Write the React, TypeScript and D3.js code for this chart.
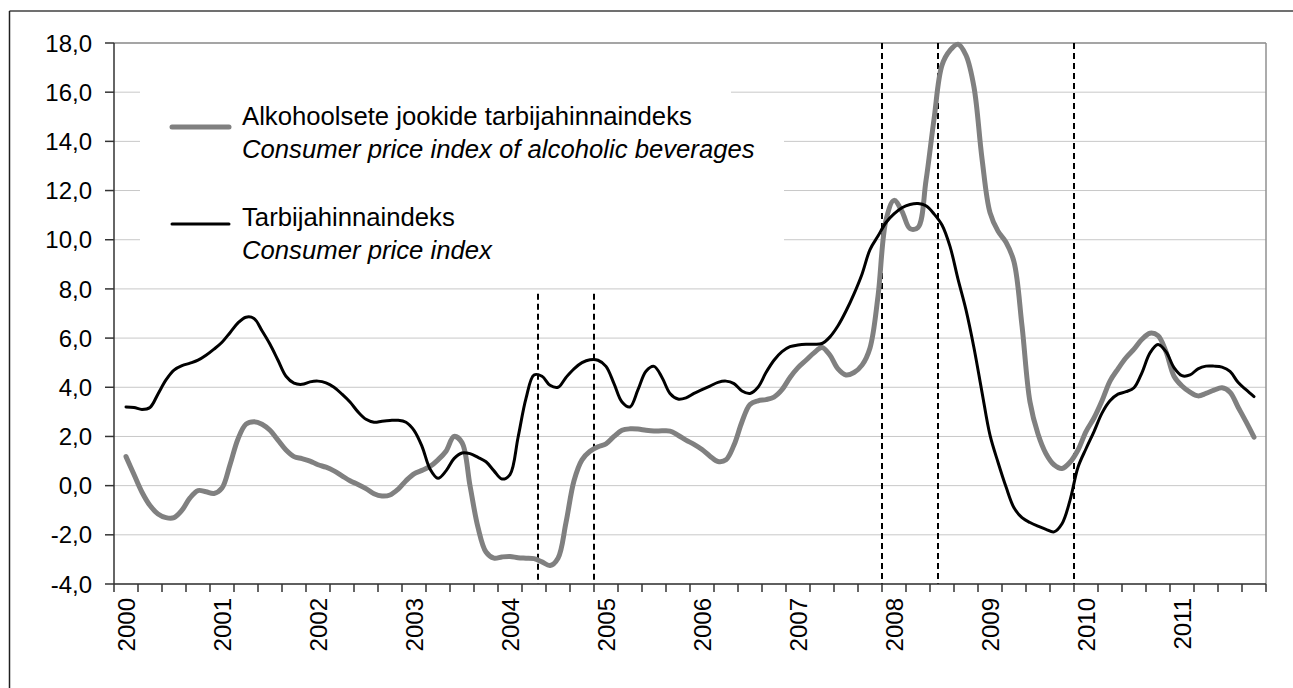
import React from "react";
import * as d3 from "d3";

// Monthly values, starting February 2000 (month index 1 = Feb 2000)
const firstMonthIndex = 1;
const cpiValues = [
  3.2, 3.18, 3.1, 3.18, 3.73, 4.3, 4.7, 4.88, 4.98, 5.1,
  5.3, 5.55, 5.83, 6.22, 6.62, 6.85, 6.8, 6.3, 5.75, 5.1,
  4.45, 4.17, 4.12, 4.22, 4.25, 4.18, 4.0, 3.72, 3.4, 3.0,
  2.7, 2.58, 2.62, 2.65, 2.66, 2.58, 2.25, 1.6, 0.68, 0.3,
  0.6, 1.1, 1.33, 1.3, 1.15, 0.97, 0.6, 0.27, 0.45, 1.95,
  3.55, 4.5, 4.45, 4.08, 4.0, 4.4, 4.75, 5.0, 5.12, 5.1,
  4.85, 4.15, 3.4, 3.2, 3.9, 4.65, 4.85, 4.4, 3.75, 3.52,
  3.57, 3.75, 3.9, 4.05, 4.2, 4.25, 4.15, 3.85, 3.75, 4.0,
  4.6, 5.1, 5.45, 5.65, 5.72, 5.75, 5.75, 5.78, 6.05, 6.5,
  7.1, 7.8, 8.6, 9.6, 10.15, 10.7, 11.05, 11.3, 11.43, 11.47,
  11.38, 11.05, 10.6, 9.73, 8.4, 7.15, 5.6, 3.8, 2.05, 0.95,
  -0.05, -0.9, -1.3, -1.5, -1.65, -1.78, -1.88, -1.55, -0.6, 0.75,
  1.5, 2.2, 2.95, 3.45, 3.72, 3.82, 3.98, 4.6, 5.4, 5.74,
  5.45, 4.8, 4.47, 4.5, 4.75, 4.86, 4.86, 4.82, 4.65, 4.2,
  3.9, 3.62,
];
const alcoholValues = [
  1.18, 0.45, -0.27, -0.81, -1.15, -1.3, -1.3, -1.0, -0.5, -0.2,
  -0.25, -0.32, -0.1, 0.85, 1.9, 2.5, 2.6, 2.5, 2.25, 1.85,
  1.45, 1.18, 1.1, 1.0, 0.85, 0.75, 0.6, 0.4, 0.2, 0.05,
  -0.12, -0.33, -0.42, -0.38, -0.15, 0.2, 0.48, 0.62, 0.78, 1.05,
  1.4, 2.0, 1.75, 0.0, -1.7, -2.7, -2.95, -2.9, -2.88, -2.93,
  -2.95, -2.97, -3.1, -3.25, -2.95, -1.5, 0.2, 1.05, 1.4, 1.58,
  1.7, 2.0, 2.25, 2.31, 2.3, 2.25, 2.22, 2.23, 2.22, 2.05,
  1.85, 1.68, 1.47, 1.2, 0.98, 1.05, 1.65, 2.6, 3.3, 3.45,
  3.5, 3.6, 3.9, 4.4, 4.8, 5.1, 5.4, 5.62, 5.3, 4.75,
  4.5, 4.6, 4.9, 5.6, 7.7, 10.8, 11.6, 11.15, 10.45, 10.5,
  12.4, 14.9, 17.1, 17.7, 17.95, 17.5, 16.2, 13.3, 11.1, 10.35,
  9.9, 9.1, 6.5, 3.4, 2.1, 1.3, 0.85, 0.7, 0.95, 1.45,
  2.2, 2.75, 3.45, 4.25, 4.75, 5.2, 5.55, 5.95, 6.2, 6.1,
  5.45, 4.45, 4.05, 3.8, 3.65, 3.75, 3.88, 3.98, 3.8, 3.2,
  2.6, 1.97,
];
const yearLabels = ["2000", "2001", "2002", "2003", "2004", "2005", "2006", "2007", "2008", "2009", "2010", "2011"];
const yTicks = [-4, -2, 0, 2, 4, 6, 8, 10, 12, 14, 16, 18];
// vertical dashed event lines, in months since January 2000, with their top value
const eventMonths = [53, 60, 96, 103, 120];
const eventTops = [7.8, 7.8, 18, 18, 18];
const legendItems = [
  { name: "Alkohoolsete jookide tarbijahinnaindeks", en: "Consumer price index of alcoholic beverages", color: "#808080", width: 5 },
  { name: "Tarbijahinnaindeks", en: "Consumer price index", color: "#000000", width: 3 },
];

const W = 1293;
const H = 688;
const M = { left: 114, right: 1266, top: 43, bottom: 584 };
const FONT = "Arial, 'Liberation Sans', sans-serif";

export default function App() {
  const totalMonths = yearLabels.length * 12;
  const x = d3.scaleLinear().domain([0, totalMonths]).range([M.left, M.right]);
  const y = d3.scaleLinear().domain([-4, 18]).range([M.bottom, M.top]);

  const line = d3
    .line<number>()
    .x((_, i) => x(firstMonthIndex + i + 0.5))
    .y((d) => y(d))
    .curve(d3.curveCatmullRom.alpha(0.5));

  const quarterTicks = d3.range(0, totalMonths + 1, 3);
  const fmt = (v: number) => v.toFixed(1).replace(".", ",");

  return (
    <svg width={W} height={H} style={{ position: "absolute", left: 0, top: 0 }} fontFamily={FONT}>
      <rect x={0} y={0} width={W} height={H} fill="#fff" />
      {/* outer frame */}
      <line x1={9.5} y1={11} x2={W + 5} y2={11} stroke="#404040" strokeWidth={1.5} />
      <line x1={9.5} y1={11} x2={9.5} y2={H + 5} stroke="#202020" strokeWidth={1.5} />

      {/* gridlines */}
      {yTicks.map((t) => (
        <line key={"g" + t} x1={M.left} x2={M.right} y1={y(t)} y2={y(t)} stroke="#c8c8c8" strokeWidth={1} />
      ))}
      {/* plot frame top / right */}
      <line x1={M.left} x2={M.right} y1={M.top} y2={M.top} stroke="#909090" strokeWidth={1.5} />
      <line x1={M.right} x2={M.right} y1={M.top} y2={M.bottom} stroke="#909090" strokeWidth={1.5} />

      {/* legend background boxes */}
      <rect x={140} y={60} width={731 - 140} height={55} fill="#fff" />
      <rect x={140} y={115} width={784 - 140} height={150} fill="#fff" />

      {/* event lines */}
      {eventMonths.map((m, i) => (
        <line key={"e" + m} x1={x(m)} x2={x(m)} y1={y(eventTops[i])} y2={M.bottom} stroke="#000" strokeWidth={2} strokeDasharray="6,4" />
      ))}

      {/* series */}
      <path d={line(alcoholValues) || ""} fill="none" stroke="#808080" strokeWidth={5} strokeLinejoin="round" strokeLinecap="round" />
      <path d={line(cpiValues) || ""} fill="none" stroke="#000" strokeWidth={3} strokeLinejoin="round" strokeLinecap="round" />

      {/* axes */}
      <line x1={M.left} x2={M.left} y1={M.top} y2={M.bottom} stroke="#333" strokeWidth={1.5} />
      <line x1={M.left} x2={M.right} y1={M.bottom} y2={M.bottom} stroke="#333" strokeWidth={1.5} />
      {yTicks.map((t) => (
        <g key={"yt" + t}>
          <line x1={M.left - 9} x2={M.left} y1={y(t)} y2={y(t)} stroke="#333" strokeWidth={1.5} />
          <text x={M.left - 22} y={y(t)} dy="0.36em" textAnchor="end" fontSize={24} fill="#000">
            {fmt(t)}
          </text>
        </g>
      ))}
      {quarterTicks.map((m) => (
        <line key={"xt" + m} x1={x(m)} x2={x(m)} y1={M.bottom} y2={M.bottom + 8} stroke="#333" strokeWidth={1.5} />
      ))}
      {yearLabels.map((lab, i) => {
        const cx = x(i * 12 + 1.5);
        return (
          <text key={lab} transform={`translate(${cx + 8.5},${598}) rotate(-90)`} textAnchor="end" fontSize={24} fill="#000">
            {lab}
          </text>
        );
      })}

      {/* legend */}
      {legendItems.map((it, i) => {
        const base = i === 0 ? 127 : 224;
        return (
          <g key={it.name}>
            <line x1={172} x2={229} y1={base} y2={base} stroke={it.color} strokeWidth={it.width} strokeLinecap="round" />
            <text x={242} y={base - 2 + i * 4} fontSize={25.7} fill="#000">{it.name}</text>
            <text x={242} y={base + 31 + i * 4} fontSize={25.7} fontStyle="italic" fill="#000">{it.en}</text>
          </g>
        );
      })}
    </svg>
  );
}
